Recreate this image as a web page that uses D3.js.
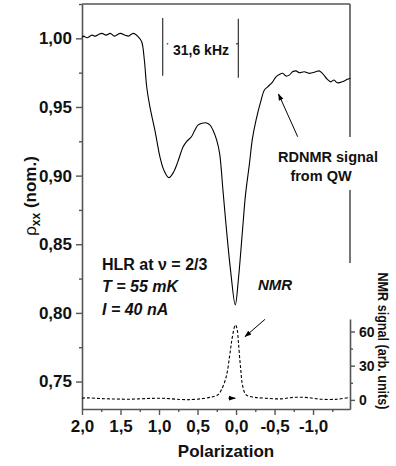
<!DOCTYPE html>
<html><head><meta charset="utf-8">
<script src="https://cdn.jsdelivr.net/npm/d3@7"></script>
<style>
html,body{margin:0;padding:0;background:#fff;}
svg{display:block;}
text{font-family:"Liberation Sans",Arial,sans-serif;}
</style></head>
<body>
<svg id="chart" width="396" height="466"></svg>
<script>
// ---- data ----
const rhoPol = [2.0,1.979,1.935,1.871,1.828,1.785,1.742,1.686,1.634,1.579,1.505,1.44,1.398,1.333,1.269,1.225,1.19,1.16,1.118,1.05,0.988,0.937,0.872,0.81,0.756,0.687,0.64,0.579,0.536,0.494,0.446,0.394,0.34,0.30,0.252,0.213,0.17,0.123,0.071,0.010,-0.03,-0.084,-0.123,-0.175,-0.213,-0.26,-0.326,-0.368,-0.411,-0.476,-0.519,-0.562,-0.605,-0.648,-0.691,-0.734,-0.778,-0.821,-0.886,-0.95,-1.036,-1.079,-1.122,-1.186,-1.23,-1.272,-1.315,-1.38,-1.445,-1.48];
const rhoVal = [1.0007,1.0016,1.0004,1.0023,1.0016,1.0028,1.0036,1.0023,1.0036,1.0016,1.0036,1.0023,1.0016,1.0036,1.0011,0.9975,0.984,0.9647,0.950,0.932,0.9137,0.904,0.8985,0.9026,0.910,0.921,0.925,0.9283,0.933,0.9368,0.938,0.9385,0.937,0.9332,0.926,0.9162,0.8895,0.860,0.831,0.8058,0.824,0.860,0.886,0.909,0.927,0.9405,0.955,0.9623,0.9647,0.9683,0.972,0.9737,0.9745,0.9725,0.9732,0.9756,0.9763,0.9749,0.9756,0.9745,0.9756,0.9763,0.9745,0.9701,0.9683,0.9696,0.9676,0.9683,0.9701,0.971];
const nmrPol = [2.0,1.935,1.763,1.59,1.376,1.16,0.946,0.73,0.60,0.43,0.32,0.235,0.19,0.127,0.084,0.054,0.019,0.006,-0.016,-0.032,-0.058,-0.088,-0.132,-0.24,-0.37,-0.58,-0.755,-0.93,-1.1,-1.315,-1.48];
const nmrVal = [1.5,1.8,1.2,0.8,0.6,1.2,1.4,0.4,0.2,1.2,2.5,4.5,8.8,20.4,38,52.6,64.3,65.8,61.4,49.7,29,11.7,4.4,2.3,1.5,0.9,2.3,2.0,0.6,0.6,2.3];
const xTicks = [2.0,1.5,1.0,0.5,0.0,-0.5,-1.0];
const xMinor = [1.75,1.25,0.75,0.25,-0.25,-0.75,-1.25];
const yTicks = [0.75,0.80,0.85,0.90,0.95,1.00];
const yMinor = [0.775,0.825,0.875,0.925,0.975,1.025];
const nmrTicks = [0,30,60];
const nmrMinor = [15,45];

// ---- layout ----
const L = 82, R = 350, T = 4, B = 409, NT = 319;
const svg = d3.select("#chart");
svg.append("rect").attr("width",396).attr("height",466).attr("fill","#fff");

const x = d3.scaleLinear().domain([2.0,-1.48]).range([L,R]);
const y = d3.scaleLinear().domain([0.73,1.025]).range([B,T]);
const yN = d3.scaleLinear().domain([-8,71]).range([B,NT]);
const fmt = d => d3.format(d === Math.round(d*10)/10 && Math.abs(d) < 5 && String(d).length<5 && false ? ".1f" : ".1f")(d).replace(".",",").replace("\u2212","-");
const fmtX = d => d3.format(".1f")(d).replace(".",",").replace("\u2212","-");
const fmtY = d => d3.format(".2f")(d).replace(".",",");

const axisColor = "#555";
function styleAxis(g){
  g.selectAll("path.domain").attr("stroke",axisColor).attr("stroke-width",1.6);
  g.selectAll(".tick line").attr("stroke",axisColor).attr("stroke-width",1.4);
  g.selectAll(".tick text").attr("fill","#111").attr("font-weight","bold");
}

// frame lines (top + right segments)
const frame = svg.append("g").attr("stroke",axisColor).attr("stroke-width",1.6);
frame.append("line").attr("x1",L).attr("x2",R).attr("y1",T).attr("y2",T);
frame.append("line").attr("x1",R).attr("x2",R).attr("y1",T).attr("y2",137);
frame.append("line").attr("x1",R).attr("x2",R).attr("y1",190).attr("y2",263);

// left axis
const gy = svg.append("g").attr("transform",`translate(${L},0)`)
  .call(d3.axisLeft(y).tickValues(yTicks).tickFormat(fmtY).tickSize(6).tickSizeOuter(0).tickPadding(4));
gy.selectAll(".tick text").attr("font-size",17).attr("font-family","Liberation Sans");
styleAxis(gy);
const gyM = svg.append("g").attr("transform",`translate(${L},0)`)
  .call(d3.axisLeft(y).tickValues(yMinor).tickFormat("").tickSize(3).tickSizeOuter(0));
gyM.select("path.domain").remove(); styleAxis(gyM);

// bottom axis
const gx = svg.append("g").attr("transform",`translate(0,${B})`)
  .call(d3.axisBottom(x).tickValues(xTicks).tickFormat(fmtX).tickSize(6).tickSizeOuter(0).tickPadding(5));
gx.selectAll(".tick text").attr("font-size",17).attr("font-family","Liberation Sans");
styleAxis(gx);
const gxM = svg.append("g").attr("transform",`translate(0,${B})`)
  .call(d3.axisBottom(x).tickValues(xMinor).tickFormat("").tickSize(3).tickSizeOuter(0));
gxM.select("path.domain").remove(); styleAxis(gxM);

// right NMR axis
const gn = svg.append("g").attr("transform",`translate(${R},0)`)
  .call(d3.axisRight(yN).tickValues(nmrTicks).tickSize(5).tickSizeOuter(0).tickPadding(4));
gn.selectAll(".tick text").attr("font-size",14).attr("font-family","Liberation Sans");
styleAxis(gn);
const gnM = svg.append("g").attr("transform",`translate(${R},0)`)
  .call(d3.axisRight(yN).tickValues(nmrMinor).tickFormat("").tickSize(3).tickSizeOuter(0));
gnM.select("path.domain").remove(); styleAxis(gnM);

// axis titles
svg.append("text").attr("x",226).attr("y",457).attr("text-anchor","middle")
  .attr("font-size",17).attr("font-weight","bold").attr("fill","#111").text("Polarization");
const yl = svg.append("text").attr("transform","translate(36,196) rotate(-90)")
  .attr("text-anchor","middle").attr("font-size",17).attr("fill","#111");
yl.append("tspan").attr("font-weight","normal").text("\u03C1");
yl.append("tspan").attr("font-weight","bold").attr("font-size",12).attr("dy",4).text("xx");
yl.append("tspan").attr("font-weight","bold").attr("dy",-4).text(" (nom.)");
svg.append("text").attr("transform","translate(378,341) rotate(90)")
  .attr("text-anchor","middle").attr("font-size",14).attr("font-weight","bold").attr("fill","#111")
  .attr("textLength",137).attr("lengthAdjust","spacingAndGlyphs")
  .text("NMR signal (arb. units)");

// curves
const line = d3.line().x(d=>x(d[0])).y(d=>y(d[1])).curve(d3.curveCatmullRom.alpha(0.5));
svg.append("path").datum(d3.zip(rhoPol,rhoVal)).attr("d",line)
  .attr("fill","none").attr("stroke","#000").attr("stroke-width",1.1);
const lineN = d3.line().x(d=>x(d[0])).y(d=>yN(d[1])).curve(d3.curveCatmullRom.alpha(0.5));
svg.append("path").datum(d3.zip(nmrPol,nmrVal)).attr("d",lineN)
  .attr("fill","none").attr("stroke","#000").attr("stroke-width",1.1).attr("stroke-dasharray","3,2");

// scale bar 31,6 kHz
const sb = svg.append("g").attr("stroke","#333").attr("stroke-width",1.2);
sb.append("line").attr("x1",x(0.952)).attr("x2",x(0.952)).attr("y1",y(1.0148)).attr("y2",y(0.9728));
sb.append("line").attr("x1",x(-0.030)).attr("x2",x(-0.030)).attr("y1",y(1.0143)).attr("y2",y(0.9712));
sb.append("line").attr("x1",x(0.90)).attr("x2",x(0.88)).attr("y1",y(0.9960)).attr("y2",y(0.9960));
sb.append("line").attr("x1",x(0.0)).attr("x2",x(-0.030)).attr("y1",y(0.9960)).attr("y2",y(0.9960));
svg.append("text").attr("x",201).attr("y",55).attr("text-anchor","middle")
  .attr("font-size",14).attr("font-weight","bold").attr("fill","#111").text("31,6 kHz");

// arrows
const defs = svg.append("defs");
defs.append("marker").attr("id","ah").attr("viewBox","0 0 10 10").attr("refX",9).attr("refY",5)
  .attr("markerWidth",7).attr("markerHeight",7).attr("orient","auto-start-reverse")
  .append("path").attr("d","M0,1.5 L10,5 L0,8.5 Z").attr("fill","#000");
svg.append("line").attr("x1",x(-0.801)).attr("y1",y(0.9283)).attr("x2",x(-0.552)).attr("y2",y(0.9594))
  .attr("stroke","#000").attr("stroke-width",1).attr("marker-end","url(#ah)");
svg.append("line").attr("x1",x(-0.376)).attr("y1",yN(70.7)).attr("x2",x(-0.117)).attr("y2",yN(55.5))
  .attr("stroke","#000").attr("stroke-width",1).attr("marker-end","url(#ah)");
svg.append("line").attr("x1",x(0.10)).attr("y1",yN(1.5)).attr("x2",x(0.01)).attr("y2",yN(1.5))
  .attr("stroke","#000").attr("stroke-width",1).attr("marker-end","url(#ah)");

// annotations
const ann = svg.append("g").attr("fill","#111").attr("font-weight","bold");
ann.append("text").attr("x",328).attr("y",162).attr("text-anchor","middle").attr("font-size",14.5).text("RDNMR signal");
ann.append("text").attr("x",321).attr("y",181).attr("text-anchor","middle").attr("font-size",14.5).text("from QW");
ann.append("text").attr("x",102).attr("y",270).attr("font-size",16).text("HLR at \u03BD = 2/3");
ann.append("text").attr("x",102).attr("y",292).attr("font-size",16).attr("font-style","italic").text("T = 55 mK");
ann.append("text").attr("x",102).attr("y",315).attr("font-size",16).attr("font-style","italic").text("I = 40 nA");
ann.append("text").attr("x",275).attr("y",290).attr("text-anchor","middle").attr("font-size",15).attr("font-style","italic").text("NMR");
</script>
</body></html>
